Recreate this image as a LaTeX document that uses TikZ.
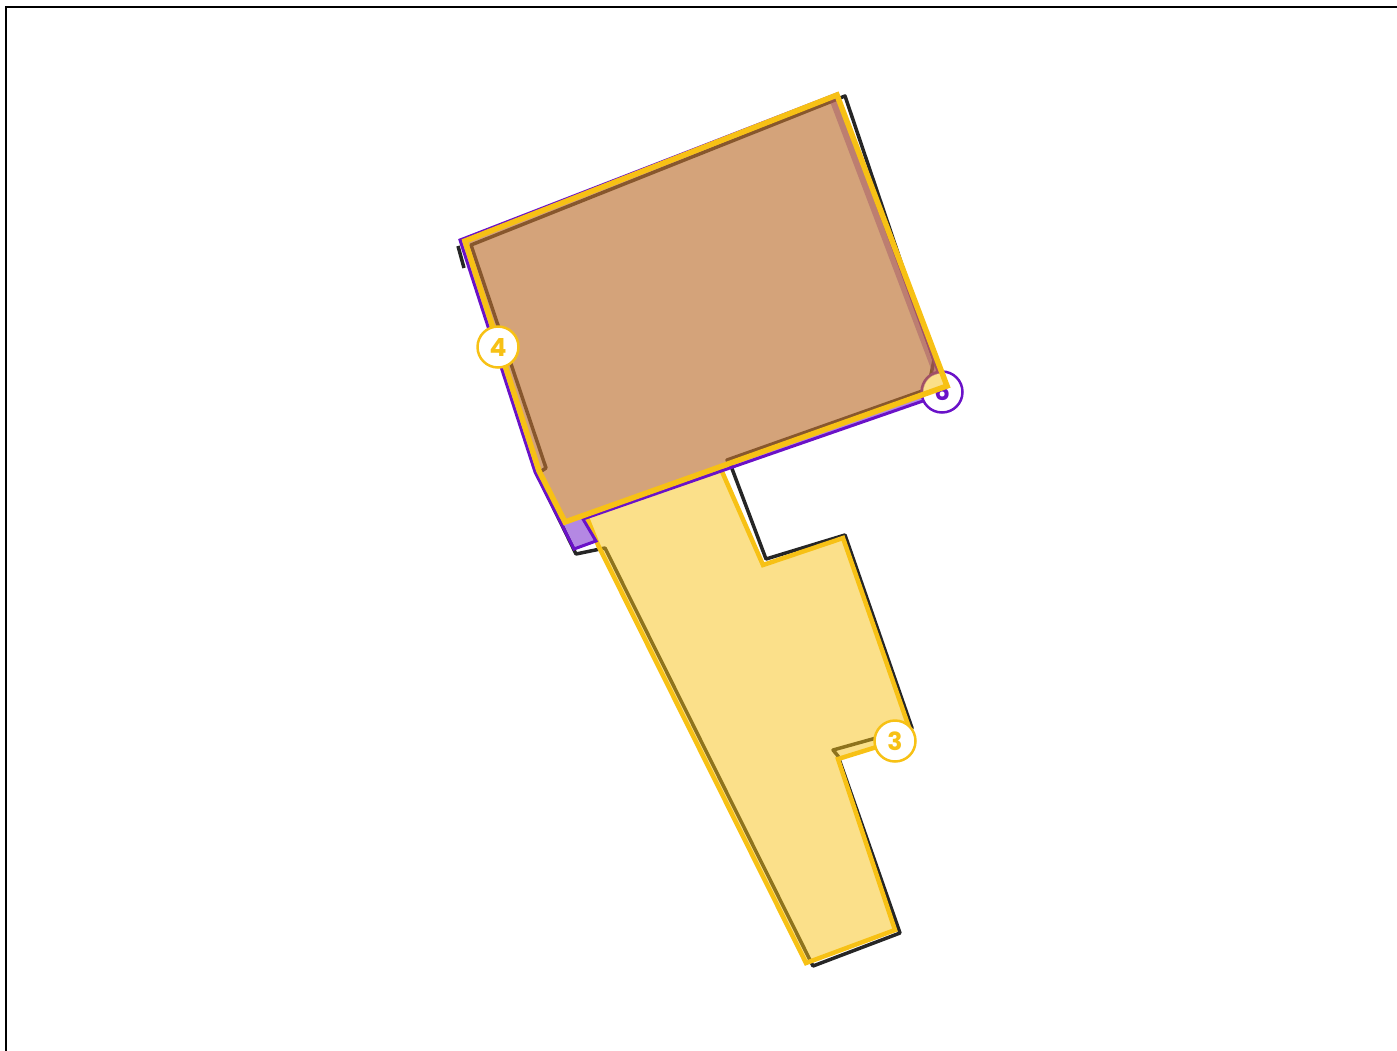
\documentclass[tikz,border=0pt]{standalone}
\usepackage{fontspec}
\newfontfamily\lblfont{Poppins}
\definecolor{ambr}{HTML}{F7C115}
\definecolor{pale}{HTML}{FBE08A}
\definecolor{prpl}{HTML}{6A12C8}
\definecolor{tanbr}{HTML}{BD7233}
\tikzset{
  lbl/.style={circle,draw=ambr,line width=2.5pt,fill=white,minimum size=41pt,inner sep=0pt,
    text=ambr,font=\lblfont\bfseries\fontsize{25}{25}\selectfont},
  lblp/.style={lbl,draw=prpl,text=prpl},
  outline/.style={line width=3.5pt,black,draw opacity=0.85,line join=round},
}
\begin{document}
\begin{tikzpicture}[x=1pt,y=1pt,yscale=-1]
\useasboundingbox (0,0) rectangle (1397,1050);
% frame
\draw[line width=2.5pt] (6,1052) -- (6,7) -- (1399,7);
% corners of the big lot
\coordinate (ra) at (465,241);
\coordinate (rb) at (837,95);
\coordinate (rc) at (947,386);
\coordinate (rd) at (565,522);
\coordinate (re) at (539,471);
% black parcel outline
\draw[outline] (471,245) -- (845,96) -- (934,360) -- (928,389) -- (727,460) -- (731,466) -- (766,559) -- (845,535) -- (912,728) -- (833,750) -- (838,756) -- (900,933) -- (813,966) -- (605,548) -- (576,554) -- (537,474) -- (546,468) -- cycle;
\draw[outline] (458,246) -- (464,268);
% yellow lot
\filldraw[fill=ambr,fill opacity=0.5,draw=ambr,line width=4.5pt] (586,515) -- (720,467) -- (763,565) -- (843,538) -- (912,736) -- (838,759) -- (895,930) -- (806,963) -- (598,545) -- cycle;
% purple lot
\fill[prpl,opacity=0.5,even odd rule] (460,240) -- (837,94) -- (946,393) -- (583,519) -- (596,541) -- (574,549) -- (535,472) -- cycle (ra) -- (rb) -- (rc) -- (rd) -- (re) -- cycle;
\draw[prpl,line width=3pt] (460,240) -- (837,94) -- (946,393) -- (583,519) -- (596,541) -- (574,549) -- (535,472) -- cycle;
\node[lblp] (l6) at (942,392) {};
\node[text=prpl,font=\lblfont\bfseries\fontsize{25}{25}\selectfont] (t6) at (942,391) {6};
% brown lot
\begin{scope}
  \clip (ra) -- (rb) -- (rc) -- (rd) -- (re) -- cycle;
  \draw[prpl,opacity=0.45,line width=7pt] (832,97) -- (942,388);
\end{scope}
\fill[tanbr,opacity=0.65] (ra) -- (rb) -- (rc) -- (rd) -- (re) -- cycle;
\begin{scope}
  \clip (ra) -- (rb) -- (rc) -- (rd) -- (re) -- cycle;
  \fill[pale] (l6.center) circle (18.5);
\end{scope}
\draw[ambr,line width=5.5pt] (ra) -- (rb) -- (rc) -- (rd) -- (re) -- cycle;
% labels
\node[lbl] (l4) at (498,347) {4};
\node[lbl] (l3) at (895,741) {3};
\end{tikzpicture}
\end{document}
